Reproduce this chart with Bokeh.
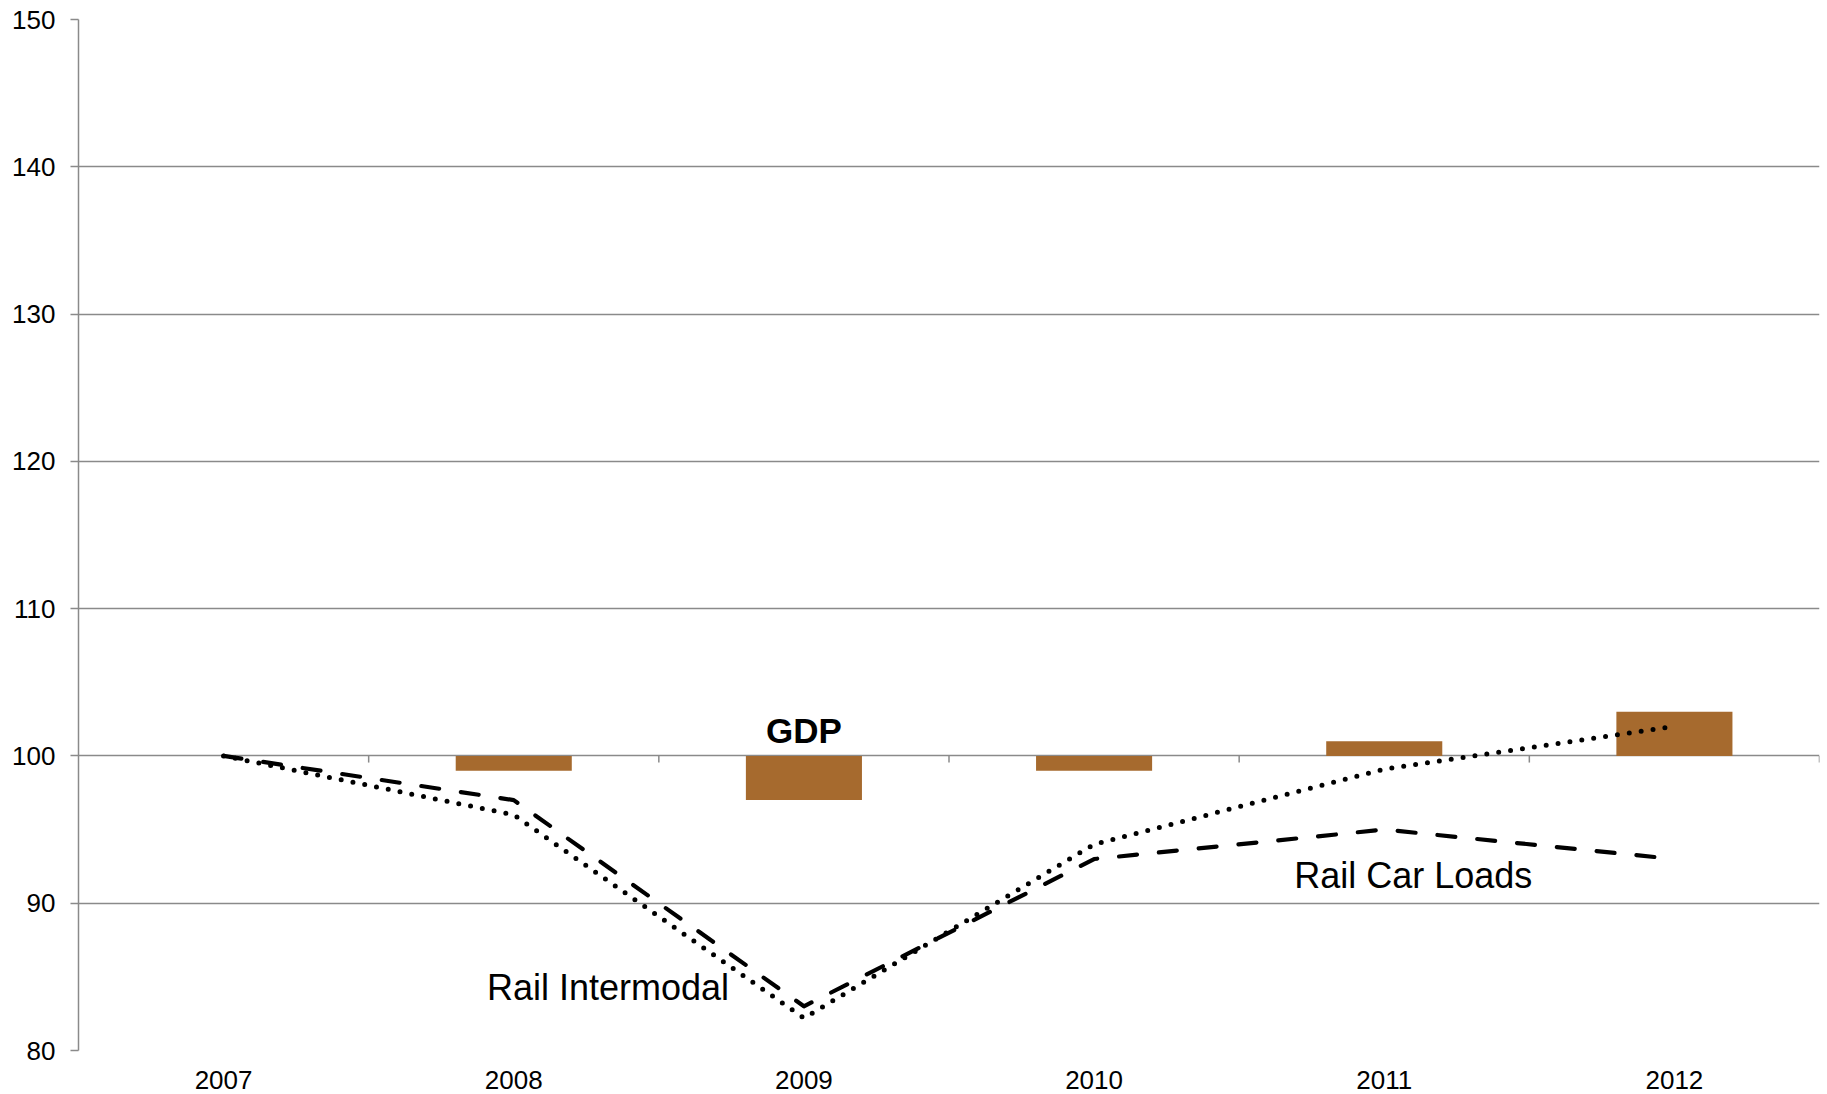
from bokeh.plotting import figure
from bokeh.models import Range1d, FixedTicker, ColumnDataSource
from bokeh.core.properties import value
from bokeh.embed import file_html
from bokeh.resources import INLINE

years = ["2007", "2008", "2009", "2010", "2011", "2012"]
gdp = [100, 99, 97, 99, 101, 103]
rail_car_loads = [100, 97, 83, 93, 95, 93]
rail_intermodal = [100, 96, 82.2, 94, 99.1, 102]
y_ticks = [80, 90, 100, 110, 120, 130, 140, 150]
base = 100

FONT = "Liberation Sans"
GRID = "#8a8a8a"
BAR = "#A66A2E"

xs = list(range(len(years)))

p = figure(width=1827, height=1094, output_backend="svg", toolbar_location=None,
           x_range=Range1d(-0.5, len(years) - 0.5), y_range=Range1d(80, 150),
           min_border_left=78, min_border_right=8, min_border_top=19, min_border_bottom=44)
p.outline_line_color = None
p.background_fill_color = "white"
p.border_fill_color = "white"

# axes
p.yaxis.ticker = FixedTicker(ticks=y_ticks)
p.yaxis.axis_line_color = GRID
p.yaxis.axis_line_width = 1.5
p.yaxis.major_tick_line_color = GRID
p.yaxis.major_tick_line_width = 1.5
p.yaxis.major_tick_out = 8
p.yaxis.major_tick_in = 0
p.yaxis.minor_tick_line_color = None
p.yaxis.major_label_standoff = 15
p.yaxis.major_label_text_font = FONT
p.yaxis.major_label_text_font_size = "26px"
p.yaxis.major_label_text_color = "black"

p.xaxis.ticker = FixedTicker(ticks=xs)
p.xaxis.major_label_overrides = {i: y for i, y in enumerate(years)}
p.xaxis.axis_line_color = None
p.xaxis.major_tick_line_color = None
p.xaxis.minor_tick_line_color = None
p.xaxis.major_label_standoff = 14
p.xaxis.major_label_text_font = FONT
p.xaxis.major_label_text_font_size = "26px"
p.xaxis.major_label_text_color = "black"

p.xgrid.grid_line_color = None
p.ygrid.grid_line_color = GRID
p.ygrid.grid_line_width = 1.5
p.ygrid.ticker = FixedTicker(ticks=y_ticks)

# category boundary tick marks on the 100 crossing axis
bx = [i + 0.5 for i in xs]
p.segment(x0=bx, x1=bx, y0=[base] * len(bx), y1=[base - 0.45] * len(bx),
          line_color=GRID, line_width=1.5)

# GDP bars
src = ColumnDataSource(dict(x=xs, top=gdp, bottom=[base] * len(gdp)))
p.vbar(x="x", top="top", bottom="bottom", width=0.4, source=src,
       fill_color=BAR, line_color=None)

# lines
p.line(xs, rail_car_loads, line_color="black", line_width=4.2,
       line_dash="18 22", line_cap="round", line_join="round")
p.line(xs, rail_intermodal, line_color="black", line_width=5,
       line_dash="0 12", line_cap="round", line_join="round")

# labels
p.text(x=[2], y=[101.7], text=["GDP"], text_font=value(FONT), text_font_size="35px",
       text_font_style="bold", text_align="center", text_baseline="middle", text_color="black")
p.text(x=[4.1], y=[91.9], text=["Rail Car Loads"], text_font=value(FONT), text_font_size="36px",
       text_align="center", text_baseline="middle", text_color="black")
p.text(x=[1.325], y=[84.3], text=["Rail Intermodal"], text_font=value(FONT), text_font_size="36px",
       text_align="center", text_baseline="middle", text_color="black")

open("out.html", "w").write(file_html(p, INLINE))
